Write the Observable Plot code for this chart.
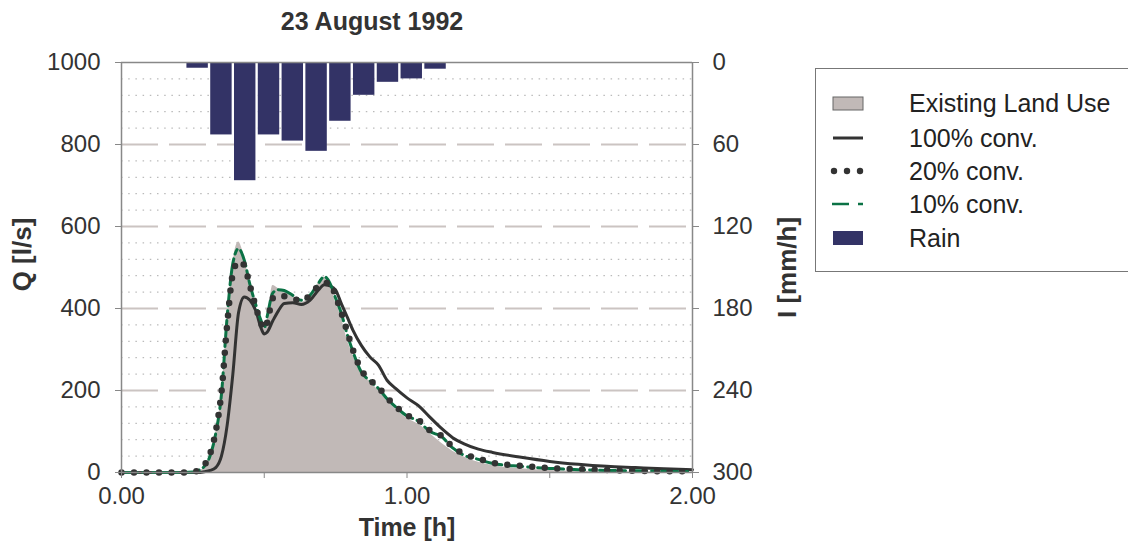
<!DOCTYPE html>
<html><head><meta charset="utf-8">
<script src="https://cdn.jsdelivr.net/npm/d3@7"></script>
<script src="https://cdn.jsdelivr.net/npm/@observablehq/plot@0.6"></script>
<style>
body{margin:0;background:#fff;overflow:hidden;font-family:"Liberation Sans",Arial,sans-serif;}
#wrap{position:relative;width:1128px;height:551px;overflow:hidden;}
#chart{position:absolute;left:0;top:0;}
#title{position:absolute;left:222px;width:300px;top:7px;text-align:center;font-weight:bold;font-size:25px;color:#333;}
#legend{position:absolute;left:815px;top:68px;width:330px;height:204px;border:1px solid #777;box-sizing:border-box;}
</style></head><body>
<div id="wrap"><div id="chart"></div><div id="title">23 August 1992</div><div id="legend"></div></div>
<script>
// time [h]
const time = [0,0.1,0.2,0.25,0.27,0.29,0.31,0.33,0.35,0.37,0.39,0.41,0.43,0.45,0.47,0.49,0.50,0.51,0.53,0.55,0.57,0.60,0.63,0.66,0.69,0.71,0.73,0.75,0.77,0.79,0.81,0.84,0.87,0.90,0.93,0.96,1.00,1.04,1.08,1.12,1.16,1.20,1.25,1.30,1.40,1.50,1.60,1.70,1.80,1.90,2.00];
// Q [l/s]
const existing = [0,0,0,0,3,12,40,95,190,370,510,562,525,460,405,360,352,370,456,448,440,430,415,430,462,476,460,415,378,325,288,242,222,200,175,155,132,118,95,72,52,38,25,17,9,5,3,2,1,1,0];
const conv100 = [0,0,0,0,0,2,5,12,40,115,240,390,428,420,395,350,338,342,370,395,412,414,410,420,445,458,455,445,412,380,348,310,282,262,225,205,182,163,135,108,85,70,57,49,37,27,20,15,12,9,7];
const conv20 = [0,0,0,1,6,18,45,100,195,360,485,515,505,455,405,362,350,365,425,432,430,425,418,432,455,462,462,430,390,345,300,250,226,208,183,162,140,128,103,90,62,45,34,24,16,11,8,6,4,3,3];
const conv10 = [0,0,0,1,5,15,40,95,190,380,510,546,518,458,410,368,352,380,438,446,444,432,420,432,462,478,462,425,388,338,296,245,224,205,180,160,138,125,100,88,60,42,32,22,15,10,7,5,4,3,2];
// rain: interval centres [min] and intensity [mm/h]
const rainMinutes = [16,21,26,31,36,41,46,51,56,61,66];
const rainIntensity = [4.2,53,86.5,53,57.5,65,43,24,14.5,12,4.9];
// ticks
const qTicks = [0,200,400,600,800,1000];
const qTickLabels = ["0","200","400","600","800","1000"];
const qMinorTicks = [40,80,120,160,240,280,320,360,440,480,520,560,640,680,720,760,840,880,920,960];
const rainTickLabels = ["300","240","180","120","60","0"];
const xTicks = [0,0.5,1,1.5,2];
const xTickLabels = ["0.00","","1.00","","2.00"];
const seriesNames = ["Existing Land Use","100% conv.","20% conv.","10% conv.","Rain"];

const flow = time.map((t,i)=>({t, existing:existing[i], c100:conv100[i], c20:conv20[i], c10:conv10[i]}));
const rain = rainMinutes.map((m,i)=>({m, r:rainIntensity[i]}));
const rainToQ = r => 1000 - r*1000/300;

const gray = "#c1b9b7", navy = "#333366", green = "#0b7245", dark = "#333333";
const curve = "monotone-x";

const chart = Plot.plot({
  width:1128, height:551,
  marginLeft:121, marginRight:436, marginTop:62, marginBottom:79,
  style:{fontFamily:"'Liberation Sans', Arial, sans-serif", fontSize:"24px", color:"#333", background:"transparent"},
  x:{domain:[0,2]},
  y:{domain:[0,1000]},
  marks:[
    Plot.ruleY(qMinorTicks, {stroke:"#aaa", strokeWidth:1, strokeDasharray:"1.5,5.7"}),
    Plot.ruleY(qTicks.filter(d=>d>0 && d<1000), {stroke:"#cbc4c2", strokeWidth:2, strokeDasharray:"37,11"}),
    Plot.areaY(flow, {x:"t", y:"existing", fill:gray, curve}),
    Plot.line(flow, {x:"t", y:"c100", stroke:dark, strokeWidth:3, curve}),
    Plot.line(flow, {x:"t", y:"c10", stroke:green, strokeWidth:3, strokeDasharray:"16,5,5,5", curve}),
    Plot.line(flow, {x:"t", y:"c20", stroke:dark, strokeWidth:6.5, strokeDasharray:"0,12.5", strokeLinecap:"round", curve}),
    Plot.rect(rain, {x1:d=>(d.m-2.25)/60, x2:d=>(d.m+2.25)/60, y1:1000, y2:d=>rainToQ(d.r), fill:navy}),
    Plot.ruleX([0,2], {stroke:"#888", strokeWidth:1.5}),
    Plot.ruleY([0,1000], {stroke:"#888", strokeWidth:1.5}),
    Plot.axisY({ticks:qTicks, tickSize:6, tickPadding:15, label:null, stroke:"#888", fill:"#333", fontSize:24,
      tickFormat:d=>qTickLabels[qTicks.indexOf(d)]}),
    Plot.axisY({anchor:"right", ticks:qTicks, tickSize:6, tickPadding:14, label:null, stroke:"#888", fill:"#333", fontSize:24,
      tickFormat:d=>rainTickLabels[qTicks.indexOf(d)]}),
    Plot.axisX({ticks:xTicks, tickSize:6, tickPadding:8, label:null, stroke:"#888", fill:"#333", fontSize:24,
      tickFormat:d=>xTickLabels[xTicks.indexOf(d)]}),
    Plot.text(["Q [l/s]"], {text:d=>d, frameAnchor:"left", textAnchor:"middle", lineAnchor:"middle", dx:-99, dy:-13, rotate:-90, fontWeight:"bold", fontSize:26, fill:"#333"}),
    Plot.text(["I [mm/h]"], {text:d=>d, frameAnchor:"right", textAnchor:"middle", lineAnchor:"middle", dx:95, rotate:-90, fontWeight:"bold", fontSize:26, fill:"#333"}),
    Plot.text(["Time [h]"], {text:d=>d, frameAnchor:"bottom", textAnchor:"middle", lineAnchor:"middle", dy:55, fontWeight:"bold", fontSize:25, fill:"#333"})
  ]
});
document.getElementById("chart").appendChild(chart);

// legend
const lg = d3.select("#legend").append("svg").attr("width",330).attr("height",204)
  .style("position","absolute").style("left","-1px").style("top","-1px");
const rowY = [35, 70, 103, 136, 170];
const sx = 18, ex = 48;
lg.append("rect").attr("x",sx).attr("y",rowY[0]-6).attr("width",30).attr("height",13).attr("fill",gray).attr("stroke","#666");
lg.append("line").attr("x1",sx).attr("x2",ex).attr("y1",rowY[1]).attr("y2",rowY[1]).attr("stroke",dark).attr("stroke-width",3);
[sx, sx+13, sx+26].forEach(x=>lg.append("circle").attr("cx",x+1).attr("cy",rowY[2]).attr("r",3.2).attr("fill",dark));
lg.append("line").attr("x1",sx-1).attr("x2",sx+16).attr("y1",rowY[3]).attr("y2",rowY[3]).attr("stroke",green).attr("stroke-width",2.5);
lg.append("line").attr("x1",sx+25).attr("x2",ex).attr("y1",rowY[3]).attr("y2",rowY[3]).attr("stroke",green).attr("stroke-width",2.5);
lg.append("rect").attr("x",sx).attr("y",rowY[4]-7).attr("width",30).attr("height",14).attr("fill",navy);
seriesNames.forEach((n,i)=>lg.append("text").attr("x",94).attr("y",rowY[i]).attr("dy","0.35em")
  .attr("font-size",25).attr("fill","#222").attr("font-family","'Liberation Sans', Arial, sans-serif").text(n));
</script>
</body></html>
